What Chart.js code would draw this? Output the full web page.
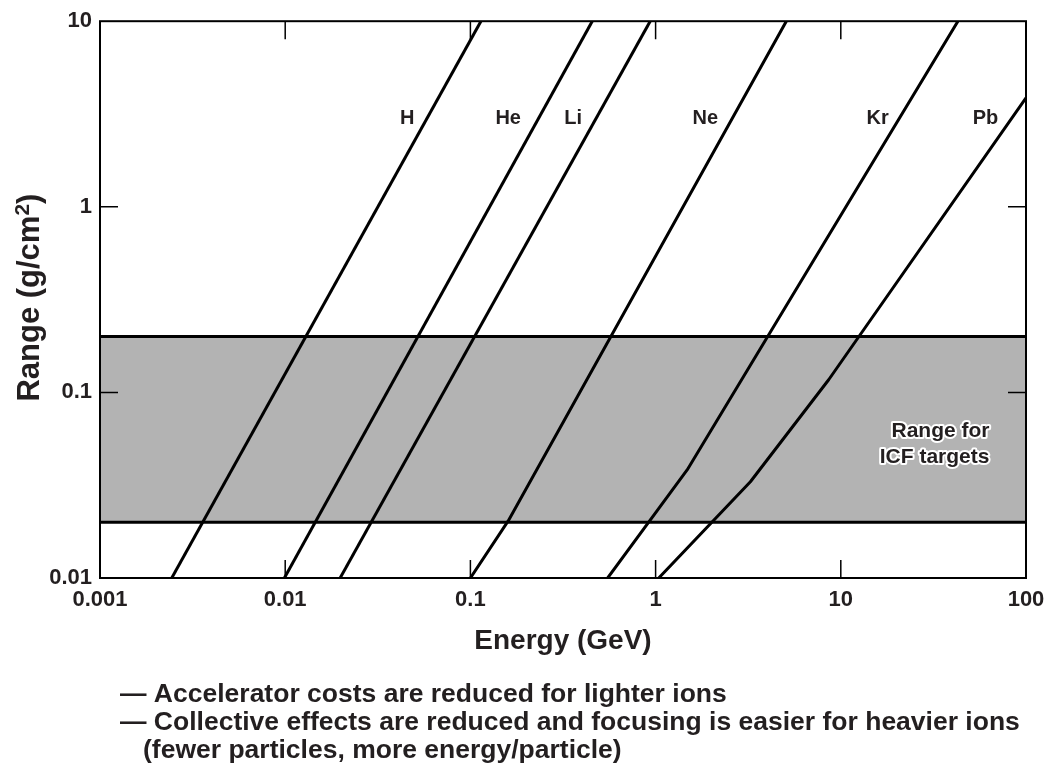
<!DOCTYPE html>
<html>
<head>
<meta charset="utf-8">
<script src="https://cdn.jsdelivr.net/npm/chart.js@4.4.1/dist/chart.umd.min.js"></script>
<style>
html,body{margin:0;padding:0;background:#ffffff;}
#wrap{width:1055px;height:768px;position:relative;}
</style>
</head>
<body>
<div id="wrap"><canvas id="c" width="1055" height="768"></canvas></div>
<script>
// ---- data ----
const ionNames = ['H', 'He', 'Li', 'Ne', 'Kr', 'Pb'];
const hEnergy  = [0.00244, 0.114];          const hRange  = [0.01, 10];
const heEnergy = [0.0099, 0.455];           const heRange = [0.01, 10];
const liEnergy = [0.0198, 0.935];           const liRange = [0.01, 10];
const neEnergy = [0.1, 0.16, 5.08];         const neRange = [0.01, 0.0203, 10];
const krEnergy = [0.551, 1.48, 42.9];       const krRange = [0.01, 0.0382, 10];
const pbEnergy = [1.04, 3.25, 8.6, 100];    const pbRange = [0.01, 0.033, 0.117, 3.86];

const icfBandEnergy = [0.001, 100];
const icfBandHigh = 0.2;
const icfBandLow = 0.02;

const xTickValues = [0.001, 0.01, 0.1, 1, 10, 100];
const xTickLabels = ['0.001', '0.01', '0.1', '1', '10', '100'];
const yTickValues = [0.01, 0.1, 1, 10];
const yTickLabels = ['0.01', '0.1', '1', '10'];

// label anchors (data coordinates)
const ionLabelEnergy = [0.0456, 0.160, 0.359, 1.855, 15.8, 60.4];
const ionLabelRange = 3.0;
const icfLabelLines = ['Range for', 'ICF targets'];
const icfLabelEnergy = 63.5;
const icfLabelRange = [0.0615, 0.0447];

const xTitle = 'Energy (GeV)';
const yTitleMain = 'Range (g/cm';
const yTitleSup = '2';
const yTitleEnd = ')';

const notes = [
  '\u2014 Accelerator costs are reduced for lighter ions',
  '\u2014 Collective effects are reduced and focusing is easier for heavier ions',
  '(fewer particles, more energy/particle)'
];

// ---- build ----
const FONT = '"Liberation Sans", Arial, Helvetica, sans-serif';
const TEXT = '#231f20';
const pts = (xs, ys) => xs.map((v, i) => ({ x: v, y: ys[i] }));
const ionSeries = [
  pts(hEnergy, hRange), pts(heEnergy, heRange), pts(liEnergy, liRange),
  pts(neEnergy, neRange), pts(krEnergy, krRange), pts(pbEnergy, pbRange)
];

const datasets = ionSeries.map((d, i) => ({
  label: ionNames[i], data: d, showLine: true, fill: false,
  borderColor: '#000', borderWidth: 3, pointRadius: 0, order: 0,
  borderJoinStyle: 'round'
}));
datasets.push({
  label: 'bandHigh', data: icfBandEnergy.map(e => ({ x: e, y: icfBandHigh })),
  showLine: true, borderColor: '#000', borderWidth: 3, pointRadius: 0,
  backgroundColor: '#b3b3b3', fill: '+1', order: 5
});
datasets.push({
  label: 'bandLow', data: icfBandEnergy.map(e => ({ x: e, y: icfBandLow })),
  showLine: true, borderColor: '#000', borderWidth: 3, pointRadius: 0,
  fill: false, order: 5
});

const TICK = 18;
const framePlugin = {
  id: 'frameTicks',
  afterDatasetsDraw(chart) {
    const { ctx, chartArea: a, scales: { x, y } } = chart;
    ctx.save();
    ctx.strokeStyle = '#000';
    ctx.lineWidth = 1.5;
    ctx.beginPath();
    x.ticks.forEach(t => {
      const px = x.getPixelForValue(t.value);
      if (px > a.left + 2 && px < a.right - 2) {
        ctx.moveTo(px, a.bottom); ctx.lineTo(px, a.bottom - TICK);
        ctx.moveTo(px, a.top); ctx.lineTo(px, a.top + TICK);
      }
    });
    y.ticks.forEach(t => {
      const py = y.getPixelForValue(t.value);
      if (py > a.top + 2 && py < a.bottom - 2) {
        ctx.moveTo(a.left, py); ctx.lineTo(a.left + TICK, py);
        ctx.moveTo(a.right, py); ctx.lineTo(a.right - TICK, py);
      }
    });
    ctx.stroke();
    ctx.lineWidth = 2;
    ctx.strokeRect(a.left, a.top, a.width, a.height);
    ctx.restore();
  }
};

const textPlugin = {
  id: 'texts',
  afterDraw(chart) {
    const { ctx, chartArea: a, scales: { x, y } } = chart;
    ctx.save();
    ctx.fillStyle = TEXT;
    ctx.textBaseline = 'middle';
    ctx.textAlign = 'center';
    ctx.font = 'bold 20px ' + FONT;
    ionNames.forEach((n, i) => {
      ctx.fillText(n, x.getPixelForValue(ionLabelEnergy[i]), y.getPixelForValue(ionLabelRange));
    });
    ctx.textAlign = 'right';
    ctx.font = 'bold 21px ' + FONT;
    ctx.lineJoin = 'round';
    icfLabelLines.forEach((t, i) => {
      const px = x.getPixelForValue(icfLabelEnergy), py = y.getPixelForValue(icfLabelRange[i]);
      ctx.strokeStyle = '#ffffff'; ctx.lineWidth = 4;
      ctx.strokeText(t, px, py);
      ctx.fillText(t, px, py);
    });

    // y-axis title with superscript
    ctx.save();
    const cx = 29, cy = (a.top + a.bottom) / 2 - 2;
    ctx.translate(cx, cy);
    ctx.rotate(-Math.PI / 2);
    ctx.textAlign = 'left';
    ctx.textBaseline = 'alphabetic';
    const fMain = 'bold 31px ' + FONT, fSup = 'bold 21px ' + FONT;
    ctx.font = fMain; const w1 = ctx.measureText(yTitleMain).width; const w3 = ctx.measureText(yTitleEnd).width;
    ctx.font = fSup; const w2 = ctx.measureText(yTitleSup).width;
    const total = w1 + w2 + w3;
    let sx = -total / 2;
    const base = 10;
    ctx.font = fMain; ctx.fillText(yTitleMain, sx, base); sx += w1;
    ctx.font = fSup; ctx.fillText(yTitleSup, sx, base - 10); sx += w2;
    ctx.font = fMain; ctx.fillText(yTitleEnd, sx, base);
    ctx.restore();

    ctx.textAlign = 'left';
    ctx.textBaseline = 'middle';
    ctx.font = 'bold 26.5px ' + FONT;
    ctx.fillText(notes[0], 120, 695);
    ctx.fillText(notes[1], 120, 723);
    ctx.fillText(notes[2], 143, 751);
    ctx.restore();
  }
};

new Chart(document.getElementById('c'), {
  type: 'scatter',
  data: { datasets },
  plugins: [framePlugin, textPlugin],
  options: {
    responsive: false,
    animation: false,
    devicePixelRatio: 1,
    layout: { padding: { left: 0, right: 29, top: 21, bottom: 110 } },
    plugins: {
      legend: { display: false },
      tooltip: { enabled: false },
      filler: { drawTime: 'beforeDatasetsDraw' }
    },
    scales: {
      x: {
        type: 'logarithmic', min: 0.001, max: 100,
        afterBuildTicks: s => { s.ticks = xTickValues.map(v => ({ value: v })); },
        afterFit: s => { s.height = 80; },
        grid: { display: false, drawTicks: false },
        border: { display: false },
        ticks: {
          autoSkip: false, maxRotation: 0, padding: 9, color: TEXT,
          font: { family: FONT, size: 22, weight: 'bold' },
          callback: v => { const i = xTickValues.indexOf(v); return i >= 0 ? xTickLabels[i] : ''; }
        },
        title: {
          display: true, text: xTitle, color: TEXT,
          font: { family: FONT, size: 28, weight: 'bold' },
          padding: { top: 0, bottom: 0 }
        }
      },
      y: {
        type: 'logarithmic', min: 0.01, max: 10,
        afterBuildTicks: s => { s.ticks = yTickValues.map(v => ({ value: v })); },
        afterFit: s => { s.width = 100; },
        grid: { display: false, drawTicks: false },
        border: { display: false },
        ticks: {
          autoSkip: false, padding: 8, color: TEXT,
          font: { family: FONT, size: 22, weight: 'bold' },
          callback: v => { const i = yTickValues.indexOf(v); return i >= 0 ? yTickLabels[i] : ''; }
        },
        title: { display: false }
      }
    }
  }
});
</script>
</body>
</html>
